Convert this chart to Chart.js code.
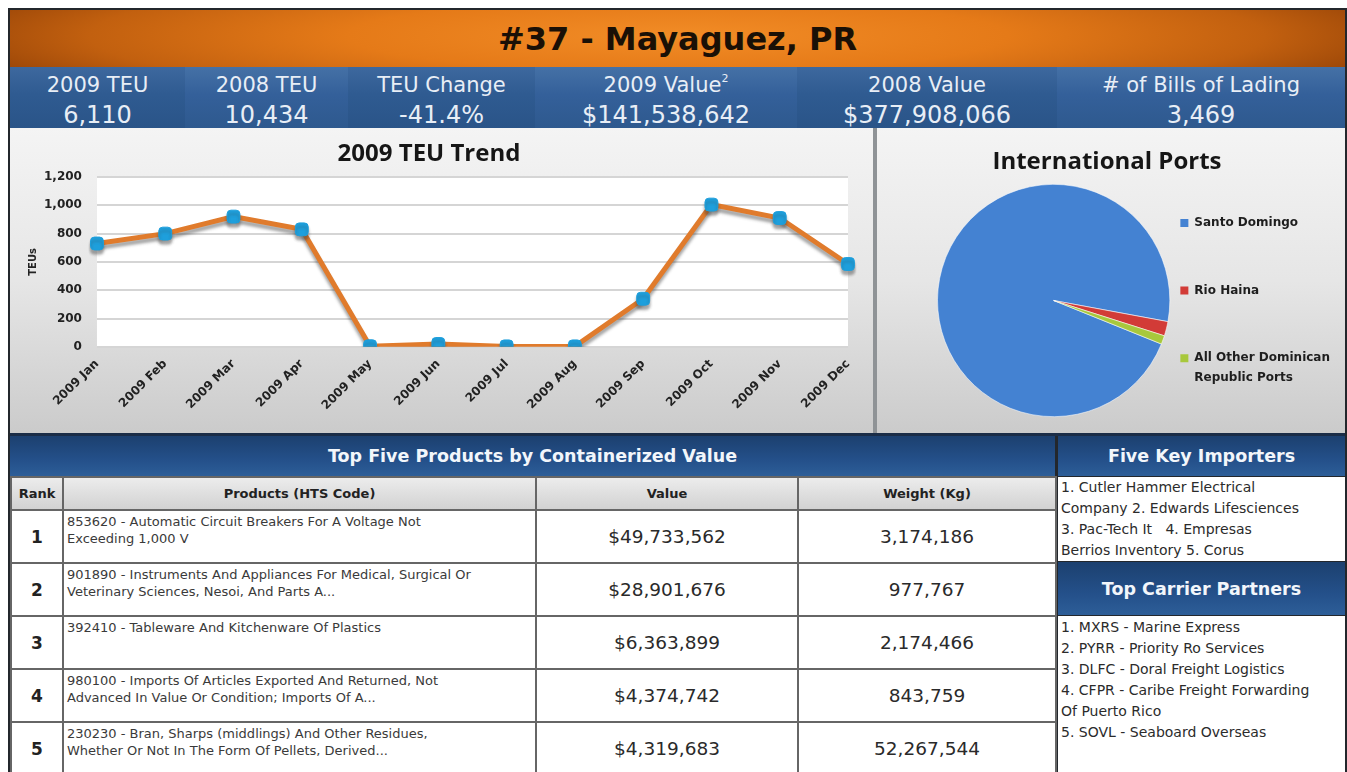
<!DOCTYPE html>
<html>
<head>
<meta charset="utf-8">
<script src="https://cdn.jsdelivr.net/npm/chart.js@4.4.1/dist/chart.umd.min.js"></script>
<style>
html,body{margin:0;padding:0;background:#fff;}
body{width:1347px;height:772px;position:relative;overflow:hidden;font-family:"DejaVu Sans",Verdana,sans-serif;}
.abs{position:absolute;}
#frame{left:8px;top:8px;width:1339px;height:770px;background:#23272c;}
#titleBar{left:10px;top:10px;width:1335px;height:57px;background:radial-gradient(ellipse 55% 140% at 50% 45%, #f28c26 0%, #e57a18 45%, #c2600f 80%, #9c4708 100%);display:flex;align-items:center;justify-content:center;font-weight:bold;font-size:32px;color:#1a1006;}
#stats{left:10px;top:67px;width:1335px;height:61px;display:flex;}
.stat{height:61px;position:relative;color:#e8eef6;text-align:center;}
.stat.a{background:linear-gradient(#3d689e 0%,#2f5b91 45%,#2a5488 100%);}
.stat.b{background:linear-gradient(#4571a6 0%,#34609a 45%,#2e598e 100%);}
.stat .lab{position:absolute;left:0;right:0;top:5px;font-size:21px;line-height:26px;white-space:nowrap;}
.stat .lab sup{font-size:11px;vertical-align:top;line-height:14px;}
.stat .val{position:absolute;left:0;right:0;top:34px;font-size:24px;line-height:28px;white-space:nowrap;}
.panel{background:linear-gradient(#f4f4f4 0%,#e6e6e6 50%,#cbcbcb 100%);}
#lp{left:10px;top:128px;width:863px;height:305px;}
#rp{left:877px;top:128px;width:468px;height:305px;}
#div1{left:873px;top:128px;width:4px;height:305px;background:#8f9396;}
.ctitle{height:32px;line-height:32px;text-align:center;font-family:"Open Sans",sans-serif;font-weight:bold;font-size:24px;color:#161616;white-space:nowrap;}
#ltitle{left:10px;top:136px;width:838px;}
#ptitle{left:877px;top:144px;width:460px;}
#navy{left:10px;top:433px;width:1335px;height:3px;background:#1b2d47;}
.hdr{background:linear-gradient(#1c406f 0%,#24508a 60%,#2d5e98 100%);color:#f2f6fb;font-weight:bold;font-size:17.5px;display:flex;align-items:center;justify-content:center;white-space:nowrap;}
#h1{left:10px;top:436px;width:1045px;height:40px;}
#h2{left:1058px;top:436px;width:287px;height:40px;}
#h3{left:1058px;top:562px;width:287px;height:53px;}
#tbl{left:10px;top:476px;width:1045px;border-collapse:collapse;table-layout:fixed;background:#fff;}
#tbl th{height:31px;background:linear-gradient(#ececec,#d2d2d2);font-size:13px;font-weight:bold;color:#222;border:2px solid #666;padding:0;}
#tbl td{height:49px;border:2px solid #666;padding:0;color:#222;}
#tbl td.rk{text-align:center;font-weight:bold;font-size:17px;}
#tbl td.pr{vertical-align:top;font-size:13px;line-height:17px;color:#3a3a3a;padding:2px 0 0 3px;white-space:nowrap;overflow:hidden;}
#tbl td.num{text-align:center;font-size:18.5px;color:#2a2a2a;}
.box{background:#fff;color:#2b2b2b;font-size:14px;line-height:21px;white-space:nowrap;overflow:hidden;padding-left:3px;box-sizing:border-box;}
#imp{left:1058px;top:477px;width:287px;height:84px;}
#car{left:1058px;top:616px;width:287px;height:160px;padding-top:1px;}
canvas{position:absolute;left:0;top:0;}
</style>
</head>
<body>
<div id="frame" class="abs"></div>
<div id="titleBar" class="abs"></div>
<div id="stats" class="abs"></div>
<div id="lp" class="abs panel"><canvas id="lineChart" width="863" height="305"></canvas></div>
<div id="div1" class="abs"></div>
<div id="rp" class="abs panel"><canvas id="pieChart" width="463" height="305"></canvas></div>
<div id="ltitle" class="abs ctitle"></div>
<div id="ptitle" class="abs ctitle"></div>
<div id="navy" class="abs"></div>
<div id="h1" class="abs hdr"></div>
<div id="h2" class="abs hdr"></div>
<table id="tbl" class="abs"><colgroup><col style="width:52px"><col style="width:473px"><col style="width:262px"><col style="width:258px"></colgroup><thead><tr id="thr"></tr></thead><tbody id="tb"></tbody></table>
<div id="imp" class="abs box"></div>
<div id="h3" class="abs hdr"></div>
<div id="car" class="abs box"></div>
<script>
// ---------- data ----------
const pageTitle = '#37 - Mayaguez, PR';
const statLabels = ['2009 TEU', '2008 TEU', 'TEU Change', '2009 Value', '2008 Value', '# of Bills of Lading'];
const statNotes = ['', '', '', '2', '', ''];
const statValues = ['6,110', '10,434', '-41.4%', '$141,538,642', '$377,908,066', '3,469'];
const statWidths = [175, 163, 187, 262, 260, 288];

const trendTitle = '2009 TEU Trend';
const yAxisTitle = 'TEUs';
const months = ['2009 Jan', '2009 Feb', '2009 Mar', '2009 Apr', '2009 May', '2009 Jun', '2009 Jul', '2009 Aug', '2009 Sep', '2009 Oct', '2009 Nov', '2009 Dec'];
const teu = [730, 800, 920, 830, 4, 20, 3, 3, 340, 1005, 910, 585];

const portsTitle = 'International Ports';
const portNames = ['Santo Domingo', 'Rio Haina', 'All Other Dominican Republic Ports'];
const portLegendLines = [['Santo Domingo', '', ''], ['Rio Haina', '', ''], ['All Other Dominican', 'Republic Ports']];
const portShares = [96.8, 2.0, 1.2];
const portColors = ['#4482d2', '#d23b37', '#a8c83c'];

const productsTitle = 'Top Five Products by Containerized Value';
const productHeaders = ['Rank', 'Products (HTS Code)', 'Value', 'Weight (Kg)'];
const productRanks = ['1', '2', '3', '4', '5'];
const productLines = [
  ['853620 - Automatic Circuit Breakers For A Voltage Not', 'Exceeding 1,000 V'],
  ['901890 - Instruments And Appliances For Medical, Surgical Or', 'Veterinary Sciences, Nesoi, And Parts A...'],
  ['392410 - Tableware And Kitchenware Of Plastics', ''],
  ['980100 - Imports Of Articles Exported And Returned, Not', 'Advanced In Value Or Condition; Imports Of A...'],
  ['230230 - Bran, Sharps (middlings) And Other Residues,', 'Whether Or Not In The Form Of Pellets, Derived...']
];
const productValues = ['$49,733,562', '$28,901,676', '$6,363,899', '$4,374,742', '$4,319,683'];
const productWeights = ['3,174,186', '977,767', '2,174,466', '843,759', '52,267,544'];

const importersTitle = 'Five Key Importers';
const importerLines = ['1. Cutler Hammer Electrical', 'Company 2. Edwards Lifesciences', '3. Pac-Tech It \u00a0 4. Empresas', 'Berrios Inventory 5. Corus'];
const carriersTitle = 'Top Carrier Partners';
const carrierLines = ['1. MXRS - Marine Express', '2. PYRR - Priority Ro Services', '3. DLFC - Doral Freight Logistics', '4. CFPR - Caribe Freight Forwarding', 'Of Puerto Rico', '5. SOVL - Seaboard Overseas'];

// ---------- html parts ----------
document.getElementById('titleBar').textContent = pageTitle;
document.getElementById('ltitle').textContent = trendTitle;
document.getElementById('ptitle').textContent = portsTitle;
const stats = document.getElementById('stats');
statLabels.forEach((l, i) => {
  const d = document.createElement('div');
  d.className = 'stat ' + (i % 2 ? 'b' : 'a');
  d.style.width = statWidths[i] + 'px';
  const lab = document.createElement('div'); lab.className = 'lab'; lab.textContent = l;
  if (statNotes[i]) { const s = document.createElement('sup'); s.textContent = statNotes[i]; lab.appendChild(s); }
  const val = document.createElement('div'); val.className = 'val'; val.textContent = statValues[i];
  d.appendChild(lab); d.appendChild(val); stats.appendChild(d);
});
document.getElementById('h1').textContent = productsTitle;
document.getElementById('h2').textContent = importersTitle;
document.getElementById('h3').textContent = carriersTitle;
const thr = document.getElementById('thr');
productHeaders.forEach(h => { const th = document.createElement('th'); th.textContent = h; thr.appendChild(th); });
const tb = document.getElementById('tb');
productRanks.forEach((r, i) => {
  const tr = document.createElement('tr');
  const c1 = document.createElement('td'); c1.className = 'rk'; c1.textContent = r;
  const c2 = document.createElement('td'); c2.className = 'pr';
  productLines[i].forEach((ln, k) => { if (k) c2.appendChild(document.createElement('br')); c2.appendChild(document.createTextNode(ln)); });
  const c3 = document.createElement('td'); c3.className = 'num'; c3.textContent = productValues[i];
  const c4 = document.createElement('td'); c4.className = 'num'; c4.textContent = productWeights[i];
  tr.append(c1, c2, c3, c4); tb.appendChild(tr);
});
function fillLines(id, lines) {
  const el = document.getElementById(id);
  lines.forEach(t => { const d = document.createElement('div'); d.textContent = t; el.appendChild(d); });
}
fillLines('imp', importerLines);
fillLines('car', carrierLines);

// ---------- charts ----------
const plotBg = {
  id: 'plotBg',
  beforeDraw(c) {
    const a = c.chartArea, x = c.ctx;
    x.save(); x.fillStyle = '#ffffff'; x.fillRect(a.left, a.top, a.right - a.left, a.bottom - a.top); x.restore();
  }
};
const lineShadow = {
  id: 'lineShadow',
  beforeDatasetsDraw(c) {
    const x = c.ctx; x.save();
    x.shadowColor = 'rgba(60,60,60,0.45)'; x.shadowBlur = 3; x.shadowOffsetX = 0; x.shadowOffsetY = 4;
  },
  afterDatasetsDraw(c) { c.ctx.restore(); }
};

new Chart(document.getElementById('lineChart'), {
  type: 'line',
  data: {
    labels: months,
    datasets: [{
      data: teu,
      borderColor: '#e07b2c',
      borderWidth: 5,
      tension: 0,
      pointStyle: 'rectRounded',
      pointRadius: 7.5,
      pointBackgroundColor: '#1e9fdc',
      pointBorderColor: '#1e9fdc',
      pointBorderWidth: 1
    }]
  },
  options: {
    responsive: false,
    animation: false,
    events: [],
    layout: { padding: { left: 17, right: 25, top: 49, bottom: 18 } },
    plugins: {
      legend: { display: false },
      tooltip: { enabled: false },
      title: { display: false }
    },
    scales: {
      x: {
        offset: false,
        grid: { display: false },
        border: { display: false },
        ticks: {
          autoSkip: false, minRotation: 45, maxRotation: 45, padding: 2,
          color: '#222', font: { family: 'DejaVu Sans', size: 12, weight: 'bold' }
        }
      },
      y: {
        min: 0, max: 1200,
        grid: { color: '#d5d5d5', lineWidth: 2, drawTicks: true, tickLength: 12, tickColor: 'rgba(0,0,0,0)' },
        border: { display: false },
        ticks: {
          stepSize: 200, padding: 3, color: '#222',
          font: { family: 'DejaVu Sans', size: 12, weight: 'bold' },
          callback: v => v.toLocaleString('en-US')
        },
        title: {
          display: true, text: yAxisTitle, color: '#222',
          font: { family: 'DejaVu Sans', size: 10, weight: 'bold' },
          padding: { top: 0, bottom: 2 }
        }
      }
    }
  },
  plugins: [plotBg, lineShadow]
});

new Chart(document.getElementById('pieChart'), {
  type: 'pie',
  data: {
    labels: portNames,
    datasets: [{
      data: portShares,
      backgroundColor: portColors,
      borderColor: 'rgba(255,255,255,0.55)',
      borderWidth: 1
    }]
  },
  options: {
    responsive: false,
    animation: false,
    events: [],
    rotation: 112,
    layout: { padding: { left: 60, right: 0, top: 52, bottom: 12 } },
    plugins: {
      tooltip: { enabled: false },
      title: { display: false },
      legend: {
        position: 'right',
        align: 'start',
        title: { display: true, text: '', font: { size: 12 }, padding: { top: 6.3, bottom: 6.3 } },
        labels: {
          boxWidth: 8, boxHeight: 8, padding: 10, color: '#1e1e1e',
          font: { family: 'DejaVu Sans', size: 12, weight: 'bold', lineHeight: 1.6 },
          generateLabels: (chart) => portLegendLines.map((t, i) => ({
            text: t, fillStyle: portColors[i], strokeStyle: portColors[i], fontColor: '#1e1e1e', lineWidth: 0, hidden: false, index: i
          }))
        }
      }
    }
  }
});
</script>
</body>
</html>
